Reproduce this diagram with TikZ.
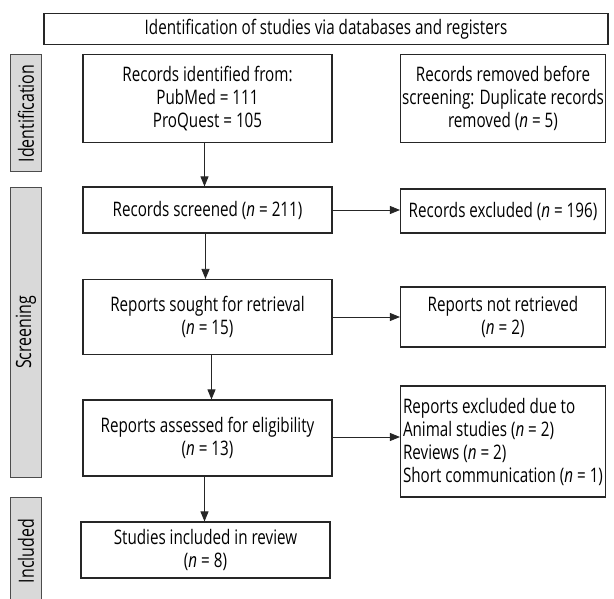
\documentclass[tikz,border=0pt]{standalone}
\usepackage{fontspec}
\setmainfont{Open Sans}[FakeStretch=0.76]
\usetikzlibrary{arrows.meta}
\begin{document}
\begin{tikzpicture}[x=1pt,y=-1pt,
  box/.style={draw=black!85, line width=1.1pt, fill=white, align=center, inner sep=0pt,
    font=\fontsize{20}{23}\selectfont},
  lab/.style={draw=black!70, line width=1pt, fill=black!15, rotate=90, inner sep=0pt,
    font=\fontsize{21}{23}\selectfont},
  arr/.style={-{Triangle[length=10pt,width=8pt]}, line width=0.8pt, draw=black!85}]
\useasboundingbox (0,0) rectangle (614,599);
% banner
\node[box, minimum width=564pt, minimum height=31pt] (top) at (326,29)
  {Identification of studies via databases and registers};
% side labels
\node[lab, minimum width=117pt, minimum height=31pt] (lid) at (26,113.5) {Identification};
\node[lab, minimum width=289pt, minimum height=31pt] (lsc) at (26,332.5) {Screening};
\node[lab, minimum width=108pt, minimum height=31pt] (lin) at (26,551) {Included};
% left column
\node[box, minimum width=249pt, minimum height=88pt] (rec) at (207.5,98.5)
  {Records identified from:\\PubMed = 111\\ProQuest = 105};
\node[box, minimum width=249pt, minimum height=46pt] (scr) at (207.5,210)
  {Records screened (\textit{n} = 211)};
\node[box, minimum width=249pt, minimum height=75pt] (sou) at (207.5,317)
  {Reports sought for retrieval\\(\textit{n} = 15)};
\node[box, minimum width=249pt, minimum height=76pt] (eli) at (207.5,438)
  {Reports assessed for eligibility\\(\textit{n} = 13)};
\node[box, minimum width=249pt, minimum height=56pt] (inc) at (205.5,550)
  {Studies included in review\\(\textit{n} = 8)};
% right column
\node[box, minimum width=205pt, minimum height=88pt] (rem) at (503,98.5)
  {Records removed before\\screening: Duplicate records\\removed (\textit{n} = 5)};
\node[box, minimum width=205pt, minimum height=44pt] (exc) at (503,211)
  {Records excluded (\textit{n} = 196)};
\node[box, minimum width=205pt, minimum height=60pt] (nrt) at (503,317)
  {Reports not retrieved\\(\textit{n} = 2)};
\node[box, minimum width=205pt, minimum height=111pt, align=left] (exd) at (503,441.5)
  {Reports excluded due to\\Animal studies (\textit{n} = 2)\\Reviews (\textit{n} = 2)\\Short communication (\textit{n} = 1)};
% connectors
\draw[arr] ([xshift=-3pt]rec.south) -- ([xshift=-3pt]scr.north);
\draw[arr] (scr.east) -- (scr.east -| exc.west);
\draw[arr] ([xshift=-2pt]scr.south) -- ([xshift=-2pt]sou.north);
\draw[arr] (sou.east) -- (sou.east -| nrt.west);
\draw[arr] ([xshift=4pt]sou.south) -- ([xshift=4pt]eli.north);
\draw[arr] ([yshift=1pt]eli.east) -- ([yshift=1pt]eli.east -| exd.west);
\draw[arr] ([xshift=-3pt]eli.south) -- ([xshift=-1pt]inc.north);
\end{tikzpicture}
\end{document}
